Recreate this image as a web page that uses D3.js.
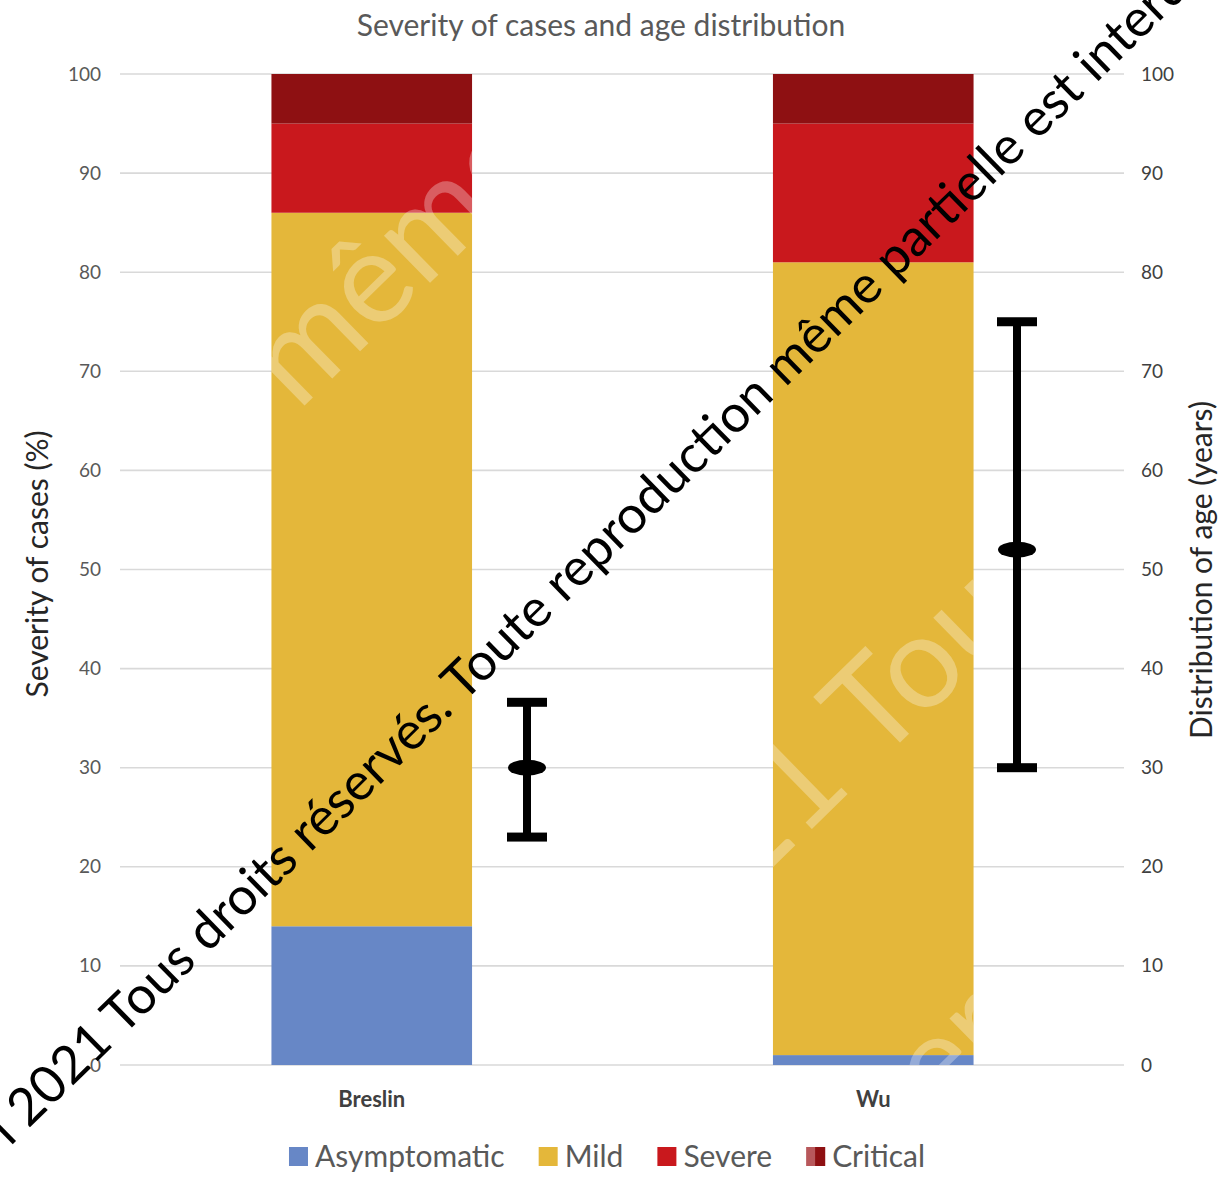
<!DOCTYPE html>
<html>
<head>
<meta charset="utf-8">
<script src="https://cdn.jsdelivr.net/npm/d3@7"></script>
<style>
  body { margin: 0; background: #fff; }
  text { font-family: Lato, "Open Sans", sans-serif; }
</style>
</head>
<body>
<svg id="chart" width="1230" height="1182"></svg>
<script>
// Studies and severity breakdown (% of cases)
const studies = ["Breslin", "Wu"];
const severityLevels = ["Asymptomatic", "Mild", "Severe", "Critical"];
const asymptomatic = [14, 1];
const mild = [72, 80];
const severe = [9, 14];
const critical = [5, 5];

// Age distribution (years): low, median, high
const ageLow = [23, 30];
const ageMedian = [30, 52];
const ageHigh = [36.6, 75];

const leftTicks = [0, 10, 20, 30, 40, 50, 60, 70, 80, 90, 100];
const rightTicks = [0, 10, 20, 30, 40, 50, 60, 70, 80, 90, 100];

const severityColors = ["#6787C6", "#E4B73A", "#C9181D", "#8E1012"];

const svg = d3.select("#chart");

const margin = { top: 74, bottom: 1065, left: 121, right: 1124 };

const x = d3.scaleBand()
  .domain(studies)
  .range([margin.left, margin.right])
  .paddingInner(0.6)
  .paddingOuter(0.3);

const xAge = d3.scalePoint()
  .domain(studies)
  .range([527, 1017]);

const y = d3.scaleLinear().domain([0, 100]).range([margin.bottom, margin.top]);
const yAge = d3.scaleLinear().domain([0, 100]).range([margin.bottom, margin.top]);

const color = d3.scaleOrdinal().domain(severityLevels).range(severityColors);

// Title
svg.append("text")
  .attr("x", 601).attr("y", 36)
  .attr("text-anchor", "middle")
  .attr("font-size", 30)
  .attr("fill", "#595959")
  .text("Severity of cases and age distribution");

// Gridlines
svg.append("g")
  .selectAll("line")
  .data(leftTicks)
  .join("line")
  .attr("x1", 120).attr("x2", 1124)
  .attr("y1", d => y(d)).attr("y2", d => y(d))
  .attr("stroke", "#d9d9d9")
  .attr("stroke-width", 1.6);

// Left axis
const leftAxis = svg.append("g")
  .attr("transform", `translate(101,0)`)
  .call(d3.axisLeft(y).tickValues(leftTicks).tickSize(0).tickPadding(0));
leftAxis.select(".domain").remove();
leftAxis.selectAll("text")
  .attr("font-size", 19)
  .attr("fill", "#595959")
  .style("font-family", "Lato, sans-serif");

// Right axis
const rightAxis = svg.append("g")
  .attr("transform", `translate(1141,0)`)
  .call(d3.axisRight(yAge).tickValues(rightTicks).tickSize(0).tickPadding(0));
rightAxis.select(".domain").remove();
rightAxis.selectAll("text")
  .attr("font-size", 19)
  .attr("fill", "#404040")
  .style("font-family", "Lato, sans-serif");

// Axis titles
svg.append("text")
  .attr("transform", "translate(48,564) rotate(-90)")
  .attr("text-anchor", "middle")
  .attr("font-size", 30)
  .attr("fill", "#262626")
  .text("Severity of cases (%)");

svg.append("text")
  .attr("transform", "translate(1212,570) rotate(-90)")
  .attr("text-anchor", "middle")
  .attr("font-size", 30)
  .attr("fill", "#262626")
  .text("Distribution of age (years)");

// Stacked bars
const rows = studies.map((s, i) => ({
  study: s,
  Asymptomatic: asymptomatic[i],
  Mild: mild[i],
  Severe: severe[i],
  Critical: critical[i]
}));
const stacked = d3.stack().keys(severityLevels)(rows);

svg.append("g")
  .selectAll("g")
  .data(stacked)
  .join("g")
  .attr("fill", d => color(d.key))
  .selectAll("rect")
  .data(d => d)
  .join("rect")
  .attr("x", d => x(d.data.study))
  .attr("width", x.bandwidth())
  .attr("y", d => y(d[1]))
  .attr("height", d => y(d[0]) - y(d[1]));

// Faint white lettering over the bars only
const clip = svg.append("defs").append("clipPath").attr("id", "barClip");
clip.selectAll("rect")
  .data(studies)
  .join("rect")
  .attr("x", d => x(d))
  .attr("width", x.bandwidth())
  .attr("y", y(100))
  .attr("height", y(0) - y(100));

const angle = -44.4;
const rad = angle * Math.PI / 180;
const faint = svg.append("g")
  .attr("clip-path", "url(#barClip)")
  .attr("fill", "#ffffff")
  .attr("fill-opacity", 0.3)
  .attr("font-size", 130);

function faintPair(px, py, before, after) {
  const sp = 32;
  faint.append("text")
    .attr("transform", `translate(${px - sp * Math.cos(rad)},${py - sp * Math.sin(rad)}) rotate(${angle})`)
    .attr("text-anchor", "end")
    .text(before);
  faint.append("text")
    .attr("transform", `translate(${px},${py}) rotate(${angle})`)
    .attr("text-anchor", "start")
    .text(after);
}
faint.append("text")
  .attr("transform", `translate(298,412) rotate(${angle})`)
  .text("même partielle");
faintPair(877, 765, "2021", "Tous droits");
faint.append("text")
  .attr("transform", `translate(940,1120) rotate(${angle})`)
  .attr("text-anchor", "end")
  .text("int");
faint.append("text")
  .attr("transform", `translate(940,1120) rotate(${angle})`)
  .text("erdite");

// Age error bars
const ageGroup = svg.append("g").attr("fill", "#000");
studies.forEach((s, i) => {
  const cx = xAge(s);
  ageGroup.append("rect")
    .attr("x", cx - 4).attr("width", 8)
    .attr("y", yAge(ageHigh[i])).attr("height", yAge(ageLow[i]) - yAge(ageHigh[i]));
  [ageHigh[i], ageLow[i]].forEach(v => {
    ageGroup.append("rect")
      .attr("x", cx - 20).attr("width", 40)
      .attr("y", yAge(v) - 4.5).attr("height", 9);
  });
  ageGroup.append("ellipse")
    .attr("cx", cx).attr("cy", yAge(ageMedian[i]))
    .attr("rx", 19).attr("ry", 8);
});

// Category labels
svg.append("g")
  .selectAll("text")
  .data(studies)
  .join("text")
  .attr("x", d => x(d) + x.bandwidth() / 2)
  .attr("y", 1107)
  .attr("text-anchor", "middle")
  .attr("font-size", 22)
  .attr("font-weight", "bold")
  .attr("fill", "#404040")
  .text(d => d);

// Legend
const legend = svg.append("g");
const items = legend.selectAll("g")
  .data(severityLevels)
  .join("g");
items.append("text")
  .attr("x", 26).attr("y", 1167)
  .attr("font-size", 30)
  .attr("fill", "#595959")
  .text(d => d);
items.each(function(d, i) {
  const g = d3.select(this);
  if (i === 3) {
    g.append("rect").attr("x", 0).attr("y", 1147).attr("width", 19).attr("height", 19).attr("fill", "#B8585B");
    g.append("rect").attr("x", 9).attr("y", 1147).attr("width", 10).attr("height", 19).attr("fill", color(d));
  } else {
    g.append("rect").attr("x", 0).attr("y", 1147).attr("width", 19).attr("height", 19).attr("fill", color(d));
  }
});
const widths = [];
items.select("text").each(function() { widths.push(this.getComputedTextLength()); });
const itemW = widths.map(w => 26 + w);
const spacing = 34;
const total = d3.sum(itemW) + spacing * (itemW.length - 1);
let lx = 607 - total / 2;
items.attr("transform", (d, i) => {
  const t = `translate(${lx},0)`;
  lx += itemW[i] + spacing;
  return t;
});

// Copyright line across the chart
svg.append("text")
  .attr("transform", `translate(10,1147) rotate(${angle})`)
  .attr("font-size", 52)
  .attr("fill", "#000")
  .text("l 2021 Tous droits réservés. Toute reproduction même partielle est interdite");
</script>
</body>
</html>
